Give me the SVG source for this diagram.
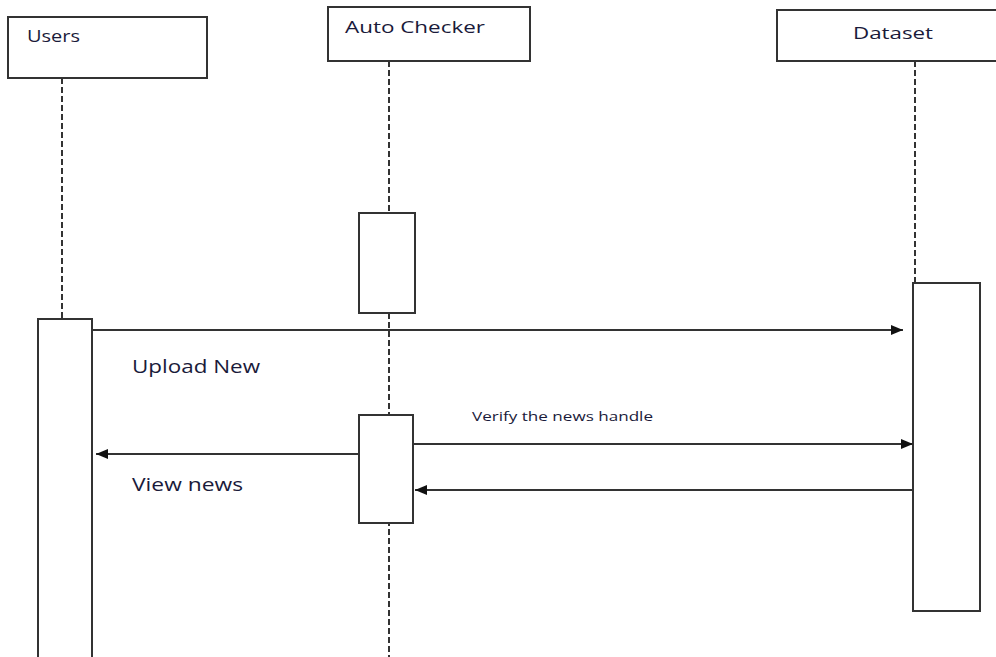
<svg xmlns="http://www.w3.org/2000/svg" width="996" height="657" viewBox="0 0 996 657">
<defs>
<marker id="ah" markerWidth="12" markerHeight="10" refX="12" refY="5" orient="auto" markerUnits="userSpaceOnUse">
<path d="M0,0 L12,5 L0,10 Z" fill="#111"/>
</marker>
<style>
.box{fill:#fff;stroke:#333;stroke-width:2}
.life{stroke:#333;stroke-width:2;stroke-dasharray:6,3;fill:none}
.msg{stroke:#333;stroke-width:2;fill:none;marker-end:url(#ah)}
text{font-family:"Open Sans","Noto Sans",sans-serif;fill:#1a1a3a}
</style>
</defs>
<rect width="996" height="657" fill="#fff"/>
<g id="lifelines">
<line class="life" x1="62" y1="78" x2="62" y2="319"/>
<line class="life" x1="389" y1="61" x2="389" y2="657"/>
<line class="life" x1="915" y1="61" x2="915" y2="283"/>
</g>
<g id="users">
<rect class="box" x="8" y="17" width="199" height="61"/>
<text x="27" y="42" font-size="16" textLength="53" lengthAdjust="spacingAndGlyphs">Users</text>
</g>
<g id="autochecker">
<rect class="box" x="328" y="7" width="202" height="54"/>
<text x="345" y="33" font-size="17" textLength="140" lengthAdjust="spacingAndGlyphs">Auto Checker</text>
</g>
<g id="dataset">
<rect class="box" x="777" y="10" width="221" height="51"/>
<text x="853" y="39" font-size="16" textLength="80" lengthAdjust="spacingAndGlyphs">Dataset</text>
</g>
<g id="act-auto-1"><rect class="box" x="359" y="213" width="56" height="100"/></g>
<g id="act-dataset"><rect class="box" x="913" y="283" width="67" height="328"/></g>
<g id="act-users"><rect class="box" x="38" y="319" width="54" height="340"/></g>
<g id="act-auto-2"><rect class="box" x="359" y="415" width="54" height="108"/></g>
<g id="connectors">
<line class="msg" x1="92" y1="330" x2="903" y2="330"/>
<line class="msg" x1="413" y1="444" x2="913" y2="444"/>
<line class="msg" x1="913" y1="490" x2="415" y2="490"/>
<line class="msg" x1="359" y1="454" x2="96" y2="454"/>
</g>
<g id="labels">
<text x="132" y="373" font-size="18" textLength="128" lengthAdjust="spacingAndGlyphs">Upload New</text>
<text x="472" y="421" font-size="13" textLength="181" lengthAdjust="spacingAndGlyphs">Verify the news handle</text>
<text x="132" y="491" font-size="18" textLength="111" lengthAdjust="spacingAndGlyphs">View news</text>
</g>
</svg>
